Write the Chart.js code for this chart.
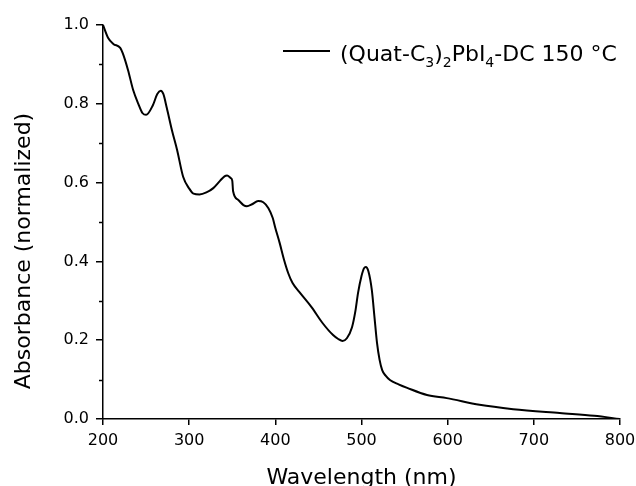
<!DOCTYPE html>
<html lang="en">
<head>
    <meta charset="UTF-8">
    <title>Absorbance</title>
    <script src="https://cdn.jsdelivr.net/npm/chart.js"></script>
    <style>
        body { margin: 0; background: #fff; }
        #wrap { width: 636px; height: 486px; }
    </style>
</head>
<body>
<div id="wrap"><canvas id="chartCanvas"></canvas></div>

<script>
    // spectrum
    const wavelength = [200, 206, 212, 220, 223, 229, 235, 241, 246, 250, 258, 263, 267, 270, 274, 280, 286, 293, 300, 305,
        312, 320, 328, 336, 341, 344, 348, 350, 351, 357, 363, 367, 373, 380, 386, 392, 397, 400, 405, 410,
        415, 420, 428, 442, 455, 467, 473, 478, 483, 489, 493, 496, 500, 503, 505, 508, 512, 515, 518, 521,
        524, 528, 533, 543, 553, 576, 599, 637, 676, 730, 770, 800];
    const absorbance = [1.000, 0.967, 0.952, 0.942, 0.928, 0.886, 0.835, 0.800, 0.776, 0.772, 0.797, 0.825, 0.833, 0.825, 0.790, 0.733, 0.683, 0.615, 0.585, 0.572,
        0.570, 0.575, 0.586, 0.605, 0.616, 0.618, 0.612, 0.605, 0.578, 0.556, 0.543, 0.540, 0.545, 0.553, 0.550, 0.535, 0.510, 0.485, 0.447, 0.405,
        0.370, 0.345, 0.322, 0.284, 0.243, 0.213, 0.203, 0.198, 0.205, 0.233, 0.275, 0.320, 0.363, 0.383, 0.386, 0.375, 0.327, 0.260, 0.193, 0.150,
        0.124, 0.110, 0.099, 0.088, 0.079, 0.061, 0.053, 0.036, 0.025, 0.015, 0.008, 0.000];
    const xTicks = [200, 300, 400, 500, 600, 700, 800];
    const yTicks = [0.0, 0.2, 0.4, 0.6, 0.8, 1.0];
    const yMinor = [0.1, 0.3, 0.5, 0.7, 0.9];

    const FONT = "'DejaVu Sans', Verdana, sans-serif";

    // axis titles, minor ticks and the legend with real subscripts
    const extrasPlugin = {
        id: "extras",
        afterDraw(chart) {
            const ctx = chart.ctx;
            const area = chart.chartArea;
            const ys = chart.scales.y;
            ctx.save();
            ctx.strokeStyle = "#000";
            ctx.fillStyle = "#000";

            // minor ticks on y
            ctx.lineWidth = 1.5;
            yMinor.forEach(v => {
                const py = Math.round(ys.getPixelForValue(v)) + 0.5;
                ctx.beginPath();
                ctx.moveTo(area.left - 4, py);
                ctx.lineTo(area.left, py);
                ctx.stroke();
            });

            // axis titles
            ctx.font = "22px " + FONT;
            ctx.textAlign = "center";
            ctx.textBaseline = "alphabetic";
            ctx.fillText("Wavelength (nm)", (area.left + area.right) / 2, 484);
            ctx.save();
            ctx.translate(30, 251);
            ctx.rotate(-Math.PI / 2);
            ctx.fillText("Absorbance (normalized)", 0, 0);
            ctx.restore();

            // legend
            const ly = 51;
            ctx.lineWidth = 2;
            ctx.beginPath();
            ctx.moveTo(283, ly);
            ctx.lineTo(330, ly);
            ctx.stroke();
            ctx.textAlign = "left";
            const parts = [["(Quat-C", 0], ["3", 1], [")", 0], ["2", 1], ["PbI", 0], ["4", 1], ["-DC 150 °C", 0]];
            let x = 340;
            parts.forEach(p => {
                ctx.font = (p[1] ? "14px " : "22px ") + FONT;
                ctx.fillText(p[0], x, p[1] ? 67 : 61);
                x += ctx.measureText(p[0]).width;
            });
            ctx.restore();
        }
    };

    const points = wavelength.map((w, i) => ({ x: w, y: absorbance[i] }));

    const ctx = document.getElementById("chartCanvas").getContext("2d");
    new Chart(ctx, {
        type: "line",
        data: {
            datasets: [{
                label: "(Quat-C3)2PbI4-DC 150 °C",
                data: points,
                borderColor: "#000",
                borderWidth: 2,
                pointRadius: 0,
                fill: false,
                cubicInterpolationMode: "monotone"
            }]
        },
        options: {
            responsive: true,
            maintainAspectRatio: false,
            animation: false,
            layout: { padding: { top: 25, right: 16, left: 0, bottom: 0 } },
            plugins: {
                legend: { display: false },
                tooltip: { enabled: false }
            },
            scales: {
                x: {
                    type: "linear",
                    min: 200,
                    max: 800,
                    afterBuildTicks: axis => { axis.ticks = xTicks.map(v => ({ value: v })); },
                    afterFit: axis => { axis.height = 67; axis.paddingRight = 0; axis.paddingLeft = 0; },
                    grid: { display: true, drawOnChartArea: false, drawTicks: true, tickLength: 6, color: "#000", lineWidth: 1.5 },
                    border: { display: true, color: "#000", width: 1.5 },
                    ticks: { color: "#000", font: { family: FONT, size: 16 }, padding: 6, maxRotation: 0 }
                },
                y: {
                    min: 0,
                    max: 1.0,
                    afterBuildTicks: axis => { axis.ticks = yTicks.map(v => ({ value: v })); },
                    ticks: {
                        color: "#000",
                        font: { family: FONT, size: 16 },
                        padding: 7,
                        callback: v => v.toFixed(1)
                    },
                    afterFit: axis => { axis.width = 103; axis.paddingTop = 0; axis.paddingBottom = 0; },
                    grid: { display: true, drawOnChartArea: false, drawTicks: true, tickLength: 7, color: "#000", lineWidth: 1.5 },
                    border: { display: true, color: "#000", width: 1.5 }
                }
            }
        },
        plugins: [extrasPlugin]
    });
</script>
</body>
</html>
